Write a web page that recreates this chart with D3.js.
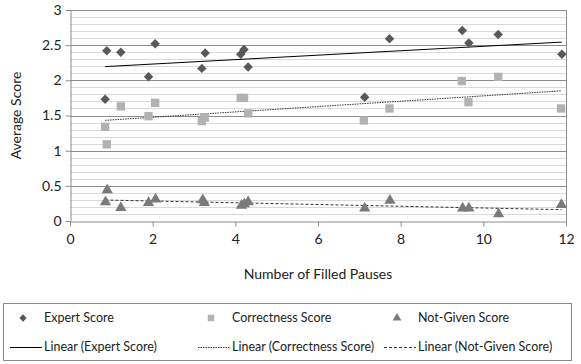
<!DOCTYPE html>
<html>
<head>
<meta charset="utf-8">
<script src="https://cdn.jsdelivr.net/npm/d3@7"></script>
<style>
  body { margin: 0; background: #fff; }
  svg { display: block; font-family: Lato, "Open Sans", sans-serif; }
</style>
</head>
<body>
<svg id="chart" width="581" height="364"></svg>
<script>
// data
const expert_x = [0.89, 1.23, 2.06, 1.90, 0.85, 3.27, 3.19, 4.13, 4.21, 4.31, 7.73, 9.49, 9.65, 10.36, 11.90, 7.13];
const expert_y = [2.42, 2.40, 2.52, 2.05, 1.73, 2.39, 2.17, 2.37, 2.44, 2.19, 2.59, 2.71, 2.53, 2.65, 2.37, 1.76];

const correct_x = [0.85, 0.89, 1.23, 1.90, 2.06, 3.19, 3.26, 4.13, 4.21, 4.31, 7.11, 7.73, 9.48, 9.64, 10.36, 11.88];
const correct_y = [1.34, 1.09, 1.63, 1.49, 1.68, 1.42, 1.47, 1.75, 1.75, 1.53, 1.43, 1.60, 1.99, 1.69, 2.05, 1.60];

const notgiven_x = [0.90, 0.86, 1.23, 1.90, 2.07, 3.21, 3.25, 4.15, 4.22, 4.31, 7.13, 7.74, 9.50, 9.65, 10.37, 11.89];
const notgiven_y = [0.44, 0.27, 0.19, 0.26, 0.31, 0.30, 0.26, 0.22, 0.24, 0.27, 0.18, 0.29, 0.18, 0.18, 0.10, 0.23];

const x_ticks = [0, 2, 4, 6, 8, 10, 12];
const y_ticks = [0, 0.5, 1, 1.5, 2, 2.5, 3];

const series = [
  { name: "Expert Score",      xs: expert_x,   ys: expert_y,   shape: d3.symbolSquare,   rot: 45, size: 45, fill: "#595959", dash: null,    trend: "#000" },
  { name: "Correctness Score", xs: correct_x,  ys: correct_y,  shape: d3.symbolSquare,   rot: 0,  size: 70, fill: "#b2b2b2", dash: "1.5,1", trend: "#333" },
  { name: "Not-Given Score",   xs: notgiven_x, ys: notgiven_y, shape: d3.symbolTriangle, rot: 0,  size: 55, fill: "#7a7a7a", dash: "3,2",   trend: "#333" }
];

const svg = d3.select("#chart");
const margin = { left: 70, right: 15, top: 10, bottom: 143 };
const width  = 581 - margin.left - margin.right;
const height = 364 - margin.top - margin.bottom;

const x = d3.scaleLinear().domain([0, 12]).range([margin.left, margin.left + width]);
const y = d3.scaleLinear().domain([0, 3]).range([margin.top + height, margin.top]);

// minor gridlines every 0.1
const minor = d3.range(1, 30).filter(d => d % 5 !== 0).map(d => d / 10);
svg.append("g").selectAll("line").data(minor).enter().append("line")
  .attr("x1", x(0)).attr("x2", x(12))
  .attr("y1", d => Math.round(y(d)) + 0.5).attr("y2", d => Math.round(y(d)) + 0.5)
  .attr("stroke", "#d9d9d9").attr("stroke-width", 1);

// major gridlines
svg.append("g").selectAll("line").data(y_ticks.slice(1)).enter().append("line")
  .attr("x1", x(0)).attr("x2", x(12))
  .attr("y1", d => Math.round(y(d)) + 0.5).attr("y2", d => Math.round(y(d)) + 0.5)
  .attr("stroke", "#8c8c8c").attr("stroke-width", 1);

// right border of plot area
svg.append("line")
  .attr("x1", x(12) + 0.5).attr("x2", x(12) + 0.5)
  .attr("y1", y(3)).attr("y2", y(0))
  .attr("stroke", "#8c8c8c");

// axes
const xAxis = svg.append("g")
  .attr("transform", `translate(0,${Math.round(y(0)) + 0.5})`)
  .call(d3.axisBottom(x).tickValues(x_ticks).tickSize(5).tickSizeOuter(0));
const yAxis = svg.append("g")
  .attr("transform", `translate(${Math.round(x(0)) + 0.5},0)`)
  .call(d3.axisLeft(y).tickValues(y_ticks).tickFormat(d3.format("")).tickSize(5).tickSizeOuter(0));

[xAxis, yAxis].forEach(a => {
  a.select(".domain").attr("stroke", "#8c8c8c");
  a.selectAll(".tick line").attr("stroke", "#8c8c8c");
  a.selectAll(".tick text").attr("fill", "#222").style("font-size", "14px").style("font-family", "Lato, sans-serif");
});
xAxis.selectAll(".tick text").attr("dy", "1.05em");
yAxis.selectAll(".tick text").attr("x", -9);

// axis titles
svg.append("text")
  .attr("x", x(6)).attr("y", 279)
  .attr("text-anchor", "middle")
  .style("font-size", "14px").attr("fill", "#222")
  .text("Number of Filled Pauses");
svg.append("text")
  .attr("transform", `translate(21,${y(1.5)}) rotate(-90)`)
  .attr("text-anchor", "middle")
  .style("font-size", "14px").attr("fill", "#222")
  .text("Average Score");

// linear trend lines (least squares)
function fit(xs, ys) {
  const mx = d3.mean(xs), my = d3.mean(ys);
  let num = 0, den = 0;
  xs.forEach((v, i) => { num += (v - mx) * (ys[i] - my); den += (v - mx) * (v - mx); });
  const b = num / den;
  return { b: b, a: my - b * mx };
}

series.forEach(s => {
  const f = fit(s.xs, s.ys);
  const x0 = d3.min(s.xs), x1 = d3.max(s.xs);
  svg.append("line")
    .attr("x1", x(x0)).attr("y1", y(f.a + f.b * x0))
    .attr("x2", x(x1)).attr("y2", y(f.a + f.b * x1))
    .attr("stroke", s.trend).attr("stroke-width", 1)
    .attr("stroke-dasharray", s.dash);
});

// points
series.forEach(s => {
  const sym = d3.symbol().type(s.shape).size(s.size);
  svg.append("g").selectAll("path")
    .data(s.xs.map((v, i) => [v, s.ys[i]]))
    .enter().append("path")
    .attr("d", sym)
    .attr("transform", d => `translate(${x(d[0])},${y(d[1])}) rotate(${s.rot})`)
    .attr("fill", s.fill);
});

// legend
const legend = svg.append("g");
legend.append("rect")
  .attr("x", 3.5).attr("y", 303.5).attr("width", 568).attr("height", 57)
  .attr("fill", "none").attr("stroke", "#8c8c8c");

const col_x = [10, 198, 384];
series.forEach((s, i) => {
  legend.append("path")
    .attr("d", d3.symbol().type(s.shape).size(s.size * 0.6))
    .attr("transform", `translate(${col_x[i] + 13},318) rotate(${s.rot})`)
    .attr("fill", s.fill);
  legend.append("text")
    .attr("x", col_x[i] + 34).attr("y", 318).attr("dy", "0.35em")
    .style("font-size", "12.5px").attr("fill", "#222")
    .text(s.name);
  legend.append("line")
    .attr("x1", col_x[i]).attr("x2", col_x[i] + 32)
    .attr("y1", 347.5).attr("y2", 347.5)
    .attr("stroke", s.trend).attr("stroke-width", 1)
    .attr("stroke-dasharray", s.dash);
  legend.append("text")
    .attr("x", col_x[i] + 34).attr("y", 347).attr("dy", "0.35em")
    .style("font-size", "12.5px").attr("fill", "#222")
    .text(`Linear (${s.name})`);
});
</script>
</body>
</html>
